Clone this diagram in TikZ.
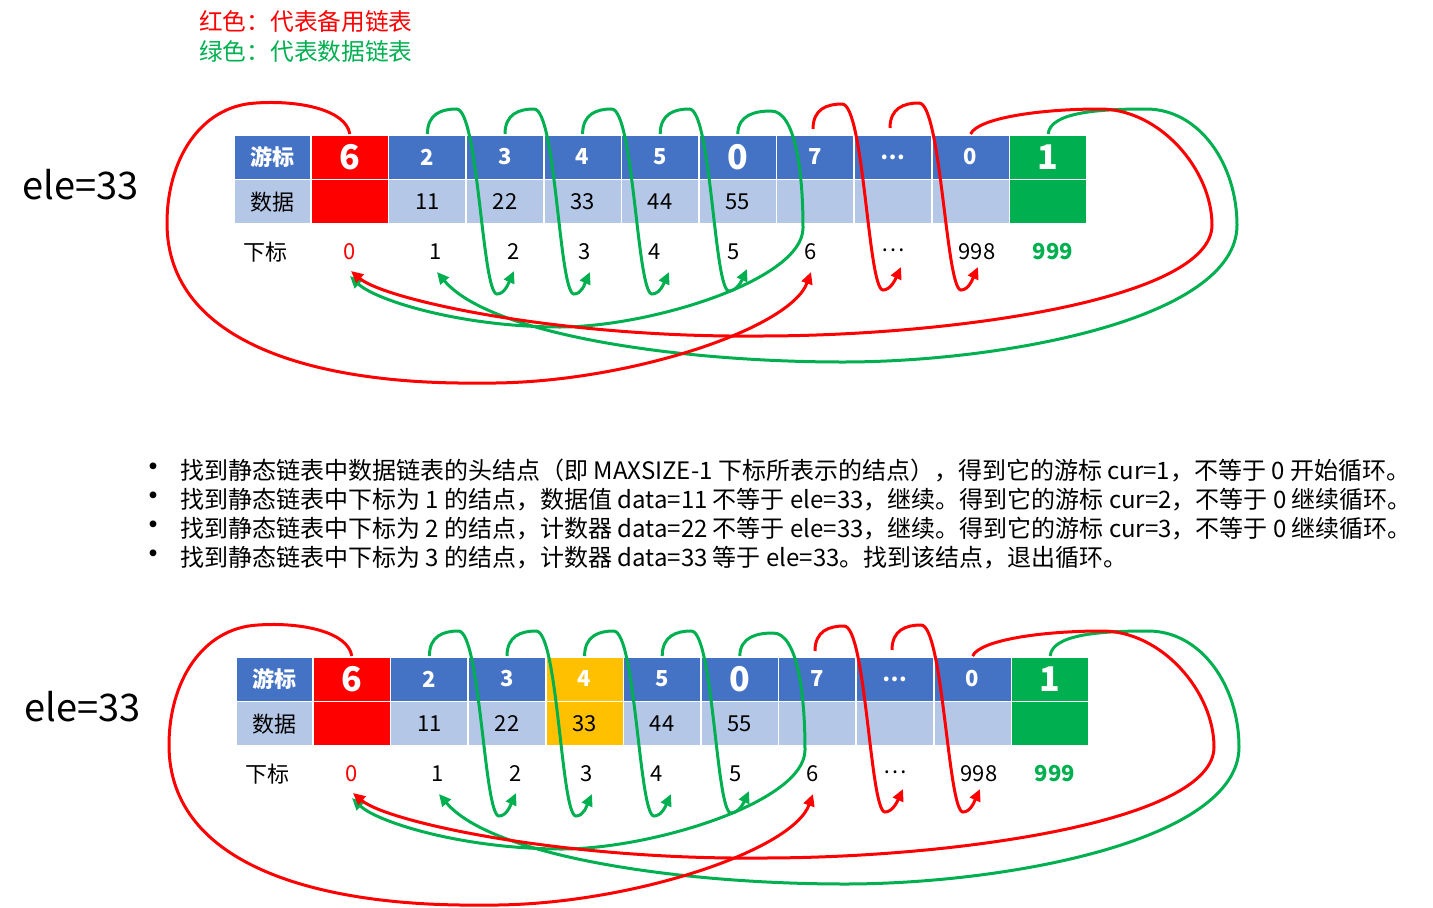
\documentclass[tikz,border=0pt]{standalone}
\usepackage{fontspec}
\setmainfont{Noto Sans CJK SC}
\usetikzlibrary{arrows.meta}
\definecolor{cred}{HTML}{FF0000}
\definecolor{cgreen}{HTML}{00B050}
\definecolor{cblue}{HTML}{4472C4}
\definecolor{clight}{HTML}{B4C7E7}
\definecolor{corange}{HTML}{FFC000}
\tikzset{
  cell/.style={draw=white, line width=1.5pt, minimum width=77.6pt, minimum height=44.5pt, inner sep=0pt, font=\fontsize{22}{24}\selectfont},
  hcell/.style={cell, fill=cblue, text=white, font=\fontsize{22}{24}\selectfont\bfseries},
  dcell/.style={cell, fill=clight, text=black},
  big/.style={font=\fontsize{34}{36}\selectfont\bfseries},
  idx/.style={inner sep=0pt, font=\fontsize{22}{24}\selectfont},
  link/.style={line width=3pt, -{Triangle[length=12pt,width=11pt]}},
  rl/.style={link, draw=cred},
  gl/.style={link, draw=cgreen},
  bul/.style={inner sep=0pt, font=\fontsize{24}{28}\selectfont},
  buldot/.style={inner sep=0pt, font=\fontsize{16}{18}\selectfont},
}
\newcommand\hookarrow[4]{%
  \draw[#1] (#2) .. controls +(0,-20) and +(-15,0) .. ++(29,-25)
    .. controls +(22,0) and +(-15,0) .. (#3)
    .. controls +(8,0) and +(-5,11) .. (#4);}
\newcommand\drawdiagram[2]{%
  \node[font=\fontsize{38}{42}\selectfont, inner sep=0pt] (ele) at (81,185) {ele=33};
  % header row
  \node[hcell, minimum width=77pt] (hl) at (272.5,157) {游标};
  \node[hcell, fill=cred, big] (h0) at (349.8,157) {6};
  \node[hcell] (h1) at (427.4,157) {2};
  \node[hcell] (h2) at (505.0,157) {3};
  \node[hcell, fill=#1] (h3) at (582.6,157) {4};
  \node[hcell] (h4) at (660.2,157) {5};
  \node[hcell, big] (h5) at (737.8,157) {0};
  \node[hcell] (h6) at (815.4,157) {7};
  \node[hcell] (h7) at (893.0,157) {…};
  \node[hcell] (h8) at (970.6,157) {0};
  \node[hcell, fill=cgreen, big] (h9) at (1048.2,157) {1};
  % data row
  \node[dcell, minimum width=77pt] (dl) at (272.5,201.7) {数据};
  \node[dcell, fill=cred] (d0) at (349.8,201.7) {};
  \node[dcell] (d1) at (427.4,201.7) {11};
  \node[dcell] (d2) at (505.0,201.7) {22};
  \node[dcell, fill=#2] (d3) at (582.6,201.7) {33};
  \node[dcell] (d4) at (660.2,201.7) {44};
  \node[dcell] (d5) at (737.8,201.7) {55};
  \node[dcell] (d6) at (815.4,201.7) {};
  \node[dcell] (d7) at (893.0,201.7) {};
  \node[dcell] (d8) at (970.6,201.7) {};
  \node[dcell, fill=cgreen] (d9) at (1048.2,201.7) {};
  % index row
  \node[idx] (il) at (265,252) {下标};
  \node[idx, text=cred] (i0) at (350,252) {0};
  \node[idx] (i1) at (436,252) {1};
  \node[idx] (i2) at (514,252) {2};
  \node[idx] (i3) at (585,252) {3};
  \node[idx] (i4) at (655,252) {4};
  \node[idx] (i5) at (734,252) {5};
  \node[idx] (i6) at (811,252) {6};
  \node[idx] (i7) at (893,250) {…};
  \node[idx] (i998) at (977,252) {998};
  \node[idx, text=cgreen, font=\fontsize{22}{24}\selectfont\bfseries] (i999) at (1053,252) {999};
  % arrow ends
  \coordinate (t2) at (514,271); \coordinate (b2) at (497,294);
  \coordinate (t3) at (590,272); \coordinate (b3) at (574,294);
  \coordinate (t4) at (669,272); \coordinate (b4) at (652,294);
  \coordinate (t5) at (747,269); \coordinate (b5) at (729,291);
  \coordinate (t7) at (901,267); \coordinate (b7) at (883,290);
  \coordinate (t8) at (978,267); \coordinate (b8) at (961,290);
  \coordinate (s6) at (813,129); \coordinate (s7) at (890,128);
  \coordinate (t0r) at (351,271); \coordinate (t0g) at (350,276);
  \coordinate (t1) at (437,272); \coordinate (t6) at (811,272);
  % data chain (green)
  \hookarrow{gl}{h1.north}{b2}{t2}
  \hookarrow{gl}{h2.north}{b3}{t3}
  \hookarrow{gl}{h3.north}{b4}{t4}
  \hookarrow{gl}{h4.north}{b5}{t5}
  \draw[gl] (h5.north) .. controls (738,115) and (755,111) .. (771,111)
    .. controls (795,111) and (803,170) .. (803,228)
    .. controls (803,280) and (650,327) .. (560,327)
    .. controls (460,327) and (375,300) .. (t0g);
  \draw[gl] (h9.north) .. controls (1050,112) and (1100,109) .. (1146,109)
    .. controls (1200,109) and (1237,165) .. (1237,225)
    .. controls (1237,320) and (1000,362) .. (843,362)
    .. controls (680,362) and (490,335) .. (t1);
  % spare chain (red)
  \hookarrow{rl}{s6}{b7}{t7}
  \hookarrow{rl}{s7}{b8}{t8}
  \draw[rl] (h0.north) .. controls (346,110) and (300,100) .. (256,103)
    .. controls (200,106) and (167,160) .. (167,223)
    .. controls (167,345) and (320,385) .. (481,383)
    .. controls (620,385) and (790,330) .. (t6);
  \draw[rl] (h8.north) .. controls (978,118) and (1040,109) .. (1100,109)
    .. controls (1160,109) and (1212,170) .. (1212,225)
    .. controls (1212,300) and (950,336) .. (760,336)
    .. controls (560,338) and (385,300) .. (t0r);
}
\begin{document}
\begin{tikzpicture}[x=1pt,y=-1pt]
\useasboundingbox (0,0) rectangle (1433,908);
\node[anchor=west, inner sep=0pt, text=cred, font=\fontsize{23.7}{26}\selectfont] (leg1) at (199,22) {红色：代表备用链表};
\node[anchor=west, inner sep=0pt, text=cgreen, font=\fontsize{23.7}{26}\selectfont] (leg2) at (199,51) {绿色：代表数据链表};
\begin{scope}[name prefix=top-]
\drawdiagram{cblue}{clight}
\end{scope}
\begin{scope}[shift={(2,522)}, name prefix=bot-]
\drawdiagram{corange}{corange}
\end{scope}
\node[buldot] (bd1) at (153,471) {\scalebox{2}{•}};
\node[buldot] (bd2) at (153,500) {\scalebox{2}{•}};
\node[buldot] (bd3) at (153,529) {\scalebox{2}{•}};
\node[buldot] (bd4) at (153,558) {\scalebox{2}{•}};
\node[bul, anchor=west] (bl1) at (180,471) {找到静态链表中数据链表的头结点（即 MAXSIZE-1 下标所表示的结点），得到它的游标 cur=1，不等于 0 开始循环。};
\node[bul, anchor=west] (bl2) at (180,500) {找到静态链表中下标为 1 的结点，数据值 data=11 不等于 ele=33，继续。得到它的游标 cur=2，不等于 0 继续循环。};
\node[bul, anchor=west] (bl3) at (180,529) {找到静态链表中下标为 2 的结点，计数器 data=22 不等于 ele=33，继续。得到它的游标 cur=3，不等于 0 继续循环。};
\node[bul, anchor=west] (bl4) at (180,558) {找到静态链表中下标为 3 的结点，计数器 data=33 等于 ele=33。找到该结点，退出循环。};
\end{tikzpicture}
\end{document}
